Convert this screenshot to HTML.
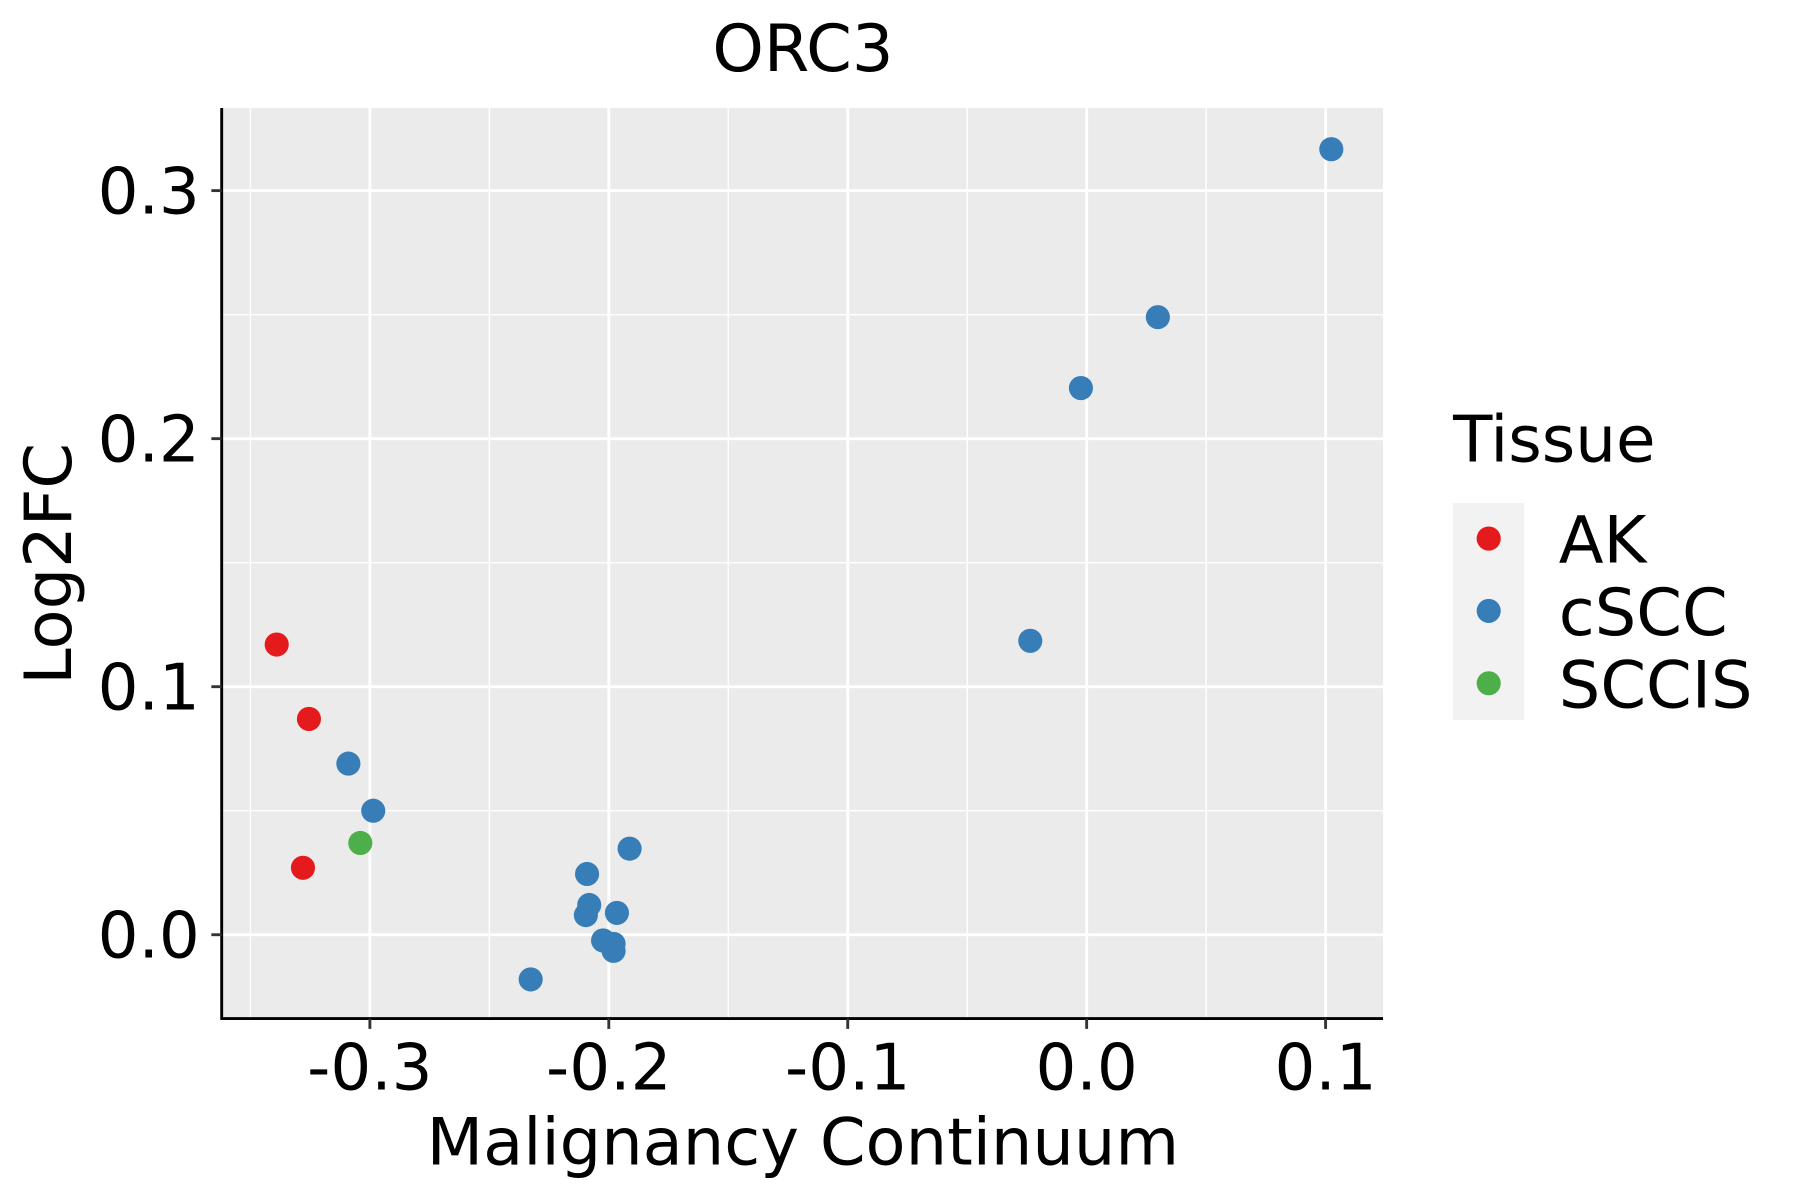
<!DOCTYPE html>
<html><head><meta charset="utf-8"><style>html,body{margin:0;padding:0;background:#fff}svg{display:block}text{font-family:"DejaVu Sans","Liberation Sans",sans-serif}</style></head>
<body>
<svg id="chart" width="1800" height="1200" viewBox="0 0 1567 1045" preserveAspectRatio="none" xmlns="http://www.w3.org/2000/svg">
<rect x="193" y="94" width="1011" height="793" fill="#ebebeb"/>
<g id="grid"></g>
<g id="points"></g>
<line x1="193" y1="94" x2="193" y2="888" stroke="#000" stroke-width="2.5"/>
<line x1="192" y1="887" x2="1204" y2="887" stroke="#000" stroke-width="2.5"/>
<g id="ticks"></g>
<text x="699" y="62" font-size="57" text-anchor="middle">ORC3</text>
<text x="699" y="1014" font-size="57" text-anchor="middle">Malignancy Continuum</text>
<text transform="translate(62,491) rotate(-90)" font-size="57" text-anchor="middle">Log2FC</text>
<g>
<text x="1265" y="402" font-size="56">Tissue</text>
<rect x="1265" y="438" width="62" height="189" fill="#f2f2f2"/>
<circle cx="1296" cy="469" r="10.5" fill="#e41a1c"/>
<text x="1357" y="490" font-size="57">AK</text>
<circle cx="1296" cy="532" r="10.5" fill="#377eb8"/>
<text x="1357" y="553" font-size="57">cSCC</text>
<circle cx="1296" cy="595" r="10.5" fill="#4daf4a"/>
<text x="1357" y="616" font-size="57">SCCIS</text>
</g>
</svg>
<script>
const tissue = ["AK","AK","AK","SCCIS","cSCC","cSCC","cSCC","cSCC","cSCC","cSCC","cSCC","cSCC","cSCC","cSCC","cSCC","cSCC","cSCC","cSCC","cSCC"];
const xVals = [-0.339,-0.3255,-0.328,-0.304,0.1024,0.0298,-0.0024,-0.0236,-0.309,-0.2986,-0.1913,-0.2091,-0.2082,-0.2096,-0.1966,-0.2024,-0.198,-0.198,-0.2327];
const yVals = [0.117,0.087,0.027,0.037,0.3167,0.249,0.2204,0.1185,0.069,0.050,0.0347,0.0245,0.012,0.0079,0.0088,-0.0023,-0.0037,-0.0065,-0.018];
const xTicks = [-0.3,-0.2,-0.1,0.0,0.1];
const xTickLabels = ["-0.3","-0.2","-0.1","0.0","0.1"];
const yTicks = [0.0,0.1,0.2,0.3];
const yTickLabels = ["0.0","0.1","0.2","0.3"];
const colors = {AK:"#e41a1c", cSCC:"#377eb8", SCCIS:"#4daf4a"};
const xs = v => 946 + v*2080;
const ys = v => 814 - v*2160;
const NS = "http://www.w3.org/2000/svg";
const grid = document.getElementById('grid'), pts = document.getElementById('points'), tk = document.getElementById('ticks');
function mk(tag, attrs, parent){const e=document.createElementNS(NS,tag);for(const k in attrs)e.setAttribute(k,attrs[k]);parent.appendChild(e);return e;}
for(let i=0;i<xTicks.length+1;i++){
  const v = xTicks[0]-0.05+i*0.1; const x = xs(v);
  if(x>193&&x<1204){const l=mk('line',{x1:x,x2:x,y1:94,y2:887,stroke:'#fff','stroke-width':1.2},grid);
  
  }
}
for(let i=0;i<yTicks.length+1;i++){
  const v = yTicks[0]-0.05+i*0.1; const y = ys(v);
  if(y>94&&y<887){const l=mk('line',{x1:193,x2:1204,y1:y,y2:y,stroke:'#fff','stroke-width':1.2},grid);
  
  }
}
xTicks.forEach((v,i)=>{
  const x=xs(v);
  const g=mk('line',{x1:x,x2:x,y1:94,y2:887,stroke:'#fff','stroke-width':2.5},grid);
  
  
  const t=mk('line',{x1:x,x2:x,y1:887,y2:896,stroke:'#333','stroke-width':2.5},tk);
  
  
  const l=mk('text',{x:x,y:949,'font-size':56,'text-anchor':'middle',fill:'#000'},tk);
  l.textContent=xTickLabels[i];
  
  
});
yTicks.forEach((v,i)=>{
  const y=ys(v);
  const g=mk('line',{x1:193,x2:1204,y1:y,y2:y,stroke:'#fff','stroke-width':2.5},grid);
  
  
  const t=mk('line',{x1:184,x2:193,y1:y,y2:y,stroke:'#333','stroke-width':2.5},tk);
  
  
  const l=mk('text',{x:174,y:y+20,'font-size':56,'text-anchor':'end',fill:'#000'},tk);
  l.textContent=yTickLabels[i];
  
  
});
xVals.forEach((v,i)=>{
  const c=mk('circle',{cx:xs(v),cy:ys(yVals[i]),r:10.5,fill:colors[tissue[i]]},pts);
  
  
});
</script>
</body></html>
